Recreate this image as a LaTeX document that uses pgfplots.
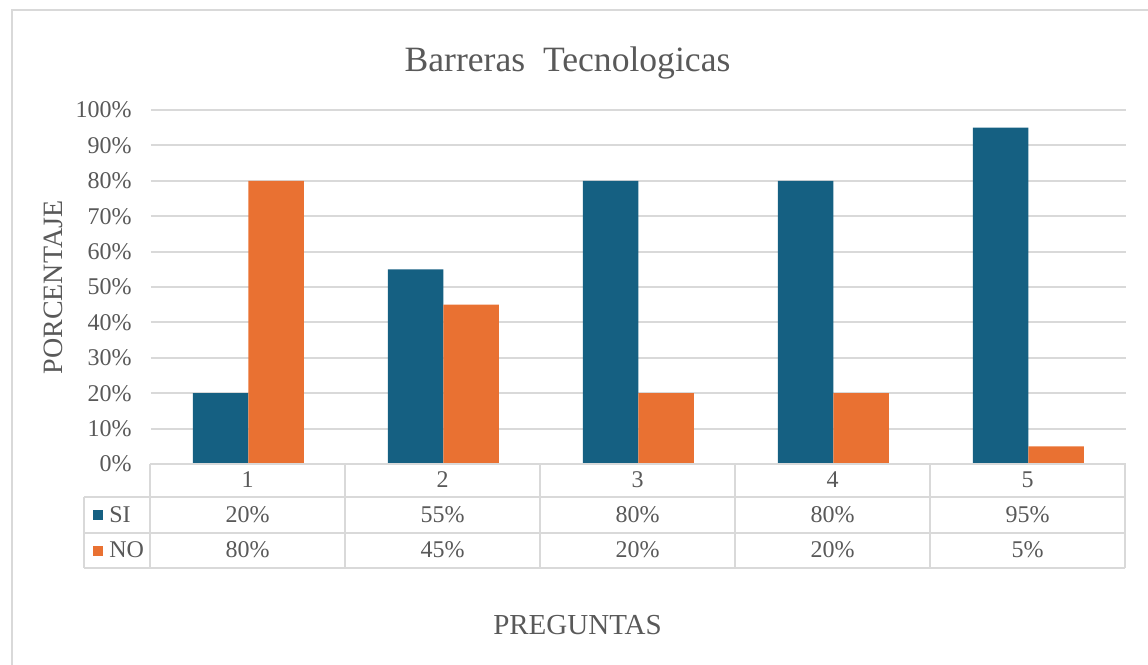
\documentclass[border=0pt]{standalone}
\usepackage{fontspec}
\setmainfont{Liberation Serif}
\usepackage{pgfplots}
\pgfplotsset{compat=1.18}
\definecolor{siblue}{HTML}{156082}
\definecolor{noorange}{HTML}{E97132}
\definecolor{gridgray}{HTML}{D9D9D9}
\definecolor{txtgray}{HTML}{595959}
\begin{document}
\begin{tikzpicture}
\path[use as bounding box] (0,0) rectangle (574pt,332.5pt);
\begin{scope}[x=0.5pt,y=-0.5pt,shift={(0pt,332.5pt)}]
\draw[gridgray,line width=1pt] (12,670) -- (12,10) -- (1150,10);
\end{scope}
\begin{axis}[at={(75.5pt,100.5pt)},anchor=south west,scale only axis,
 width=487.5pt,height=177pt,
 xmin=0.5,xmax=5.5,ymin=0,ymax=100,
 ybar=0pt, bar width=27.75pt,
 axis line style={draw=none}, major tick length=0pt,
 xtick=\empty, ytick={0,10,...,100},
 ymajorgrids, grid style={gridgray,line width=1pt},
 yticklabel={\pgfmathprintnumber{\tick}\%},
 /pgf/number format/assume math mode=true,
 yticklabel style={font=\fontsize{12pt}{14pt}\selectfont, text=txtgray, inner sep=0pt, xshift=-9.5pt},
 clip=false]
\addplot[fill=siblue,draw=none] coordinates {(1,20) (2,55) (3,80) (4,80) (5,95)};
\addplot[fill=noorange,draw=none] coordinates {(1,80) (2,45) (3,20) (4,20) (5,5)};
\end{axis}
\begin{scope}[x=0.5pt,y=-0.5pt,shift={(0pt,332.5pt)}]
\begin{scope}[gridgray,line width=1pt]
\draw (150,464) -- (1125,464);
\foreach \y in {497,533,568} \draw (84,\y) -- (1125,\y);
\foreach \x in {150,345,540,735,930,1125} \draw (\x,464) -- (\x,568);
\draw (84,497) -- (84,568);
\end{scope}
\begin{scope}[every node/.style={text=txtgray,font=\fontsize{12pt}{14pt}\selectfont}]
\foreach \i/\s/\n in {1/20/80,2/55/45,3/80/20,4/80/20,5/95/5}{
  \pgfmathsetmacro{\cx}{150+195*(\i-0.5)}
  \node[anchor=base] at (\cx,488) {\i};
  \node[anchor=base] at (\cx,523) {\s\%};
  \node[anchor=base] at (\cx,558) {\n\%};
}
\node[anchor=base west,inner sep=0pt] at (109,523) {SI};
\node[anchor=base west,inner sep=0pt] at (109,558) {NO};
\end{scope}
\fill[siblue] (93,510) rectangle (103,520);
\fill[noorange] (93,546) rectangle (103,556);
\node[anchor=base,text=txtgray,font=\fontsize{17.8pt}{20pt}\selectfont] at (567.5,72) {Barreras\ \ Tecnologicas};
\node[anchor=base,text=txtgray,font=\fontsize{14.5pt}{17pt}\selectfont] at (577.5,635) {PREGUNTAS};
\node[anchor=base,rotate=90,text=txtgray,font=\fontsize{14pt}{17pt}\selectfont] at (62,287.5) {PORCENTAJE};
\end{scope}
\end{tikzpicture}
\end{document}
